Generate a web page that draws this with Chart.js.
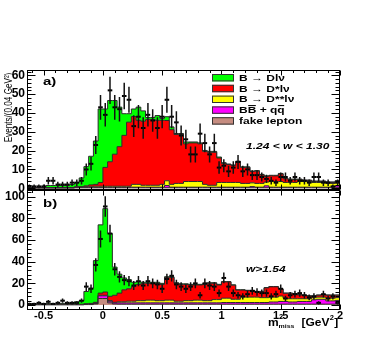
<!DOCTYPE html>
<html>
<head>
<meta charset="utf-8">
<title>m2 miss distributions</title>
<script src="https://cdn.jsdelivr.net/npm/chart.js@4.4.1/dist/chart.umd.min.js"></script>
<style>
  html, body { margin: 0; padding: 0; background: #fff; }
  body { position: relative; width: 374px; height: 339px; overflow: hidden; }
  canvas { position: absolute; left: 0; }
  #chartA { top: 0; }
  #chartB { top: 175px; }
</style>
</head>
<body>
<canvas id="chartA" width="374" height="200"></canvas>
<canvas id="chartB" width="374" height="164"></canvas>
<script>
const FONT = '"Liberation Sans", Arial, Helvetica, sans-serif';

// bin centres, m2miss in GeV^2 (0.04 GeV^2 bins)
const massBins = [-0.62, -0.58, -0.54, -0.50, -0.46, -0.42, -0.38, -0.34, -0.30, -0.26,
  -0.22, -0.18, -0.14, -0.10, -0.06, -0.02, 0.02, 0.06, 0.10, 0.14,
  0.18, 0.22, 0.26, 0.30, 0.34, 0.38, 0.42, 0.46, 0.50, 0.54,
  0.58, 0.62, 0.66, 0.70, 0.74, 0.78, 0.82, 0.86, 0.90, 0.94,
  0.98, 1.02, 1.06, 1.10, 1.14, 1.18, 1.22, 1.26, 1.30, 1.34,
  1.38, 1.42, 1.46, 1.50, 1.54, 1.58, 1.62, 1.66, 1.70, 1.74,
  1.78, 1.82, 1.86, 1.90, 1.94, 1.98];
const binWidth = 0.04;

// a) 1.24 < w < 1.30
const dataA = [1, 1, 1, 1, 4, 4, 2, 2, 2, 3,
  3, 4, 10, 13, 23, 43, 39, 52, 43, 42,
  49, 47, 33, 38, 32, 39, 36, 32, 38, 47,
  38, 35, 28, 26, 18, 18, 29, 24, 18, 24,
  11, 12, 9, 11, 14, 9, 10, 7, 7, 6,
  5, 4, 3, 6, 6, 4, 6, 4, 4, 3,
  6, 6, 3, 3, 1, 3];
const fakeA = [0.2, 0.2, 0.2, 0.2, 0.2, 0.2, 0.2, 0.2, 0.2, 0.2,
  0.3, 0.3, 0.3, 0.3, 0.3, 0.3, 0.3, 0.3, 0.3, 0.3,
  0.3, 0.3, 0.3, 0.3, 0.3, 0.3, 0.3, 0.3, 0.3, 0.3,
  0.3, 0.3, 0.3, 0.3, 0.3, 0.3, 0.3, 0.3, 0.3, 0.3,
  0.3, 0.3, 0.3, 0.3, 0.3, 0.3, 0.3, 0.3, 0.3, 0.3,
  0.3, 0.3, 0.3, 0.3, 0.3, 0.3, 0.3, 0.3, 0.3, 0.3,
  0.3, 0.3, 0.3, 0.3, 0.3, 0.3];
const bbqqA = [0.1, 0.1, 0.1, 0.1, 0.1, 0.1, 0.1, 0.1, 0.1, 0.1,
  0.3, 0.3, 0.3, 0.3, 0.3, 0.3, 0.3, 0.3, 0.3, 0.3,
  0.3, 0.3, 0.3, 0.3, 0.3, 0.3, 0.3, 0.3, 0.3, 1.2,
  0.3, 0.3, 0.3, 0.3, 0.3, 0.3, 0.3, 0.3, 0.3, 0.3,
  0.3, 0.3, 0.3, 0.3, 0.3, 0.3, 0.3, 0.6, 0.3, 0.3,
  1.0, 0.3, 0.3, 0.3, 0.3, 0.3, 0.3, 0.3, 0.3, 0.3,
  0.3, 0.3, 0.3, 0.3, 0.3, 1.0];
const dssA = [0, 0, 0, 0, 0, 0, 0, 0, 0, 0,
  0.2, 0.2, 0.2, 0.2, 0.5, 0.5, 0.5, 0.5, 0.5, 0.5,
  0.5, 0.5, 1.5, 1.5, 1, 1, 1, 1, 1.5, 2.5,
  1.5, 2, 2, 3, 3, 3, 3, 1.5, 1, 1,
  2.5, 2.5, 2.5, 2.5, 2.5, 2, 2, 2, 2, 2,
  2, 3, 3, 3, 2.5, 2.5, 2.5, 3, 3, 3,
  2.5, 2.5, 2.5, 2, 2, 2];
const dstarA = [0, 0, 0, 0, 0, 0, 0, 0, 0, 0,
  0, 0, 0.5, 1, 1, 2, 10, 13, 17, 21,
  27, 34, 36, 34, 34, 35, 35, 34.5, 34, 32,
  29, 26, 26, 20, 20.5, 20.5, 20, 17.5, 17.5, 17.5,
  13, 10, 9.5, 9, 11, 8.5, 8.5, 6, 6.5, 4.5,
  3, 3, 3, 4, 2, 1.5, 1.5, 1, 0.5, 0.5,
  0.5, 0.5, 0.5, 0.5, 0.5, 0.5];
const dlnuA = [0.2, 0.2, 0.2, 0.2, 1.2, 1.2, 1.2, 1.2, 1.2, 1.7,
  2.2, 4.7, 10.2, 15.2, 23, 39, 31, 32.5, 28.5, 21,
  11.5, 4.5, 4, 7, 5.5, 1, 1, 2.5, 1, 2,
  1.5, 0.5, 0.5, 1, 0.5, 0.5, 0.5, 0.5, 0.5, 0.5,
  0.5, 0.5, 0.3, 0.3, 0.3, 0.3, 0.3, 0.3, 0.3, 0.3,
  0.3, 0.3, 0.3, 0.3, 0.3, 0.3, 0.3, 0.3, 0.3, 0.3,
  0.3, 0.3, 0.3, 0.3, 0.3, 0.3];

// b) w > 1.54
const dataB = [1, 1, 2, 1, 3, 1, 2, 4, 2, 2,
  2, 4, 17, 15, 37, 61, 91, 66, 33, 26,
  23, 22, 18, 22, 18, 22, 20, 19, 15, 24,
  27, 19, 17, 15, 17, 20, 9, 20, 18, 17,
  11, 25, 17, 11, 9, 8, 10, 13, 12, 11,
  11, 8, 10, 15, 6, 9, 10, 11, 9, 7,
  8, 2, 10, 6, 8, 2];
const fakeB = [0.2, 0.2, 0.2, 0.2, 0.2, 0.2, 0.2, 0.2, 0.2, 0.2,
  0.2, 0.2, 0.4, 0.4, 1, 6, 6, 2, 1, 0.8,
  0.8, 0.8, 0.8, 0.8, 0.8, 0.8, 0.8, 0.8, 0.8, 0.8,
  0.8, 0.8, 0.8, 0.8, 0.8, 0.8, 0.8, 0.8, 0.8, 0.8,
  0.8, 0.8, 0.8, 0.8, 0.8, 0.8, 0.8, 0.8, 0.8, 0.8,
  0.8, 0.8, 0.8, 0.8, 0.8, 0.8, 0.8, 0.8, 0.8, 0.8,
  0.8, 0.8, 0.8, 0.8, 0.8, 0.8];
const bbqqB = [0.2, 0.2, 0.2, 0.2, 0.2, 0.2, 0.2, 0.2, 0.2, 0.2,
  0.2, 0.2, 0.2, 0.2, 0.5, 2.5, 2.5, 1.5, 1, 1.2,
  1.2, 1.2, 1.2, 1.2, 1.2, 1.2, 1.2, 1.2, 1.2, 1.2,
  1.2, 1.2, 1.2, 1.2, 1.2, 1.2, 1.2, 1.2, 1.2, 1.2,
  1.2, 1.5, 1.5, 1.5, 1.5, 1.5, 1.5, 1.5, 1.5, 1.5,
  1.5, 2, 2, 2.5, 2.5, 2, 2, 2.5, 2.5, 2.5,
  4, 4.5, 4.5, 3, 3, 3.5];
const dssB = [0.2, 0.2, 0.2, 0.2, 0.2, 0.2, 0.2, 0.2, 0.2, 0.2,
  0.2, 0.2, 0.2, 0.2, 0.3, 0.5, 0.5, 0.5, 0.5, 1,
  1, 1.5, 1.5, 2, 2, 2.5, 2.5, 2, 2, 2.5,
  2.5, 1.5, 1.5, 2, 2, 2.5, 2.5, 2, 2, 3,
  3, 4, 4, 3, 3, 5, 5, 5, 5, 4.5,
  4.5, 4.5, 4.5, 5, 3, 3, 3, 2.5, 2.5, 2.5,
  2, 2, 2, 2.5, 2.5, 2.5];
const dstarB = [0, 0, 0, 0, 0, 0, 0, 0, 0, 0,
  0, 0, 0.4, 0.7, 0.7, 2, 3, 4, 6.5, 8,
  11, 11.5, 13.5, 15, 16, 15.5, 15.5, 16, 15, 21,
  21, 16.5, 15.5, 15, 14.5, 14, 14, 15, 16, 15,
  13.5, 15, 15, 13, 8.5, 6.5, 6, 6, 5, 5.5,
  9, 9.5, 9.5, 6.5, 4.5, 5, 4.5, 3.5, 3, 2.5,
  1.2, 1.7, 2.2, 2.7, 2.7, 2.2];
const dlnuB = [0.2, 0.2, 0.4, 0.2, 0.9, 0.4, 0.4, 0.9, 0.9, 0.9,
  2.4, 3.4, 11.3, 14, 38.5, 63, 77, 58, 26, 17.5,
  11, 8.5, 4, 2.5, 1, 1, 1, 1, 1, 0.6,
  0.6, 0.6, 0.6, 0.6, 0.6, 0.6, 0.6, 0.6, 0.6, 0.6,
  0.6, 0.3, 0.3, 0.3, 0.3, 0.3, 0.3, 0.3, 0.3, 0.3,
  0.3, 0.3, 0.3, 0.3, 0.3, 0.3, 0.3, 0.3, 0.3, 0.3,
  0.3, 0.3, 0.3, 0.3, 0.3, 0.3];

const xTicks = [-0.5, 0, 0.5, 1, 1.5, 2];
const yTicksA = [0, 10, 20, 30, 40, 50, 60];
const yTicksB = [0, 20, 40, 60, 80, 100];

// stacking order, bottom to top
const sources = ['fake lepton', 'BB + qq', 'B \u2192 D**l\u03bd', 'B \u2192 D*l\u03bd', 'B \u2192 Dl\u03bd'];
const colors = ['#c68c80', '#ff00ff', '#ffff00', '#ff0000', '#00ff00'];

function steps(vals) {
  const pts = massBins.map((c, i) => ({ x: c - binWidth / 2, y: vals[i] }));
  pts.push({ x: massBins[massBins.length - 1] + binWidth / 2, y: vals[vals.length - 1] });
  return pts;
}

function makeDatasets(counts, parts) {
  const sets = [{
    label: 'data',
    data: massBins.map((c, i) => ({ x: c, y: counts[i] })),
    showLine: false,
    pointStyle: 'line',
    pointRadius: 2.3,
    pointBorderWidth: 2,
    pointBorderColor: '#000',
    borderColor: '#000',
    stack: 'data',
    errorBars: true
  }];
  parts.forEach((vals, k) => sets.push({
    label: sources[k],
    data: steps(vals),
    stepped: 'before',
    fill: k === 0 ? 'origin' : '-1',
    backgroundColor: colors[k],
    borderColor: '#2a2a2a',
    borderWidth: 1,
    pointRadius: 0,
    stack: 'mc'
  }));
  return sets;
}

// poisson error bars on the data points
const errorBars = {
  id: 'errorBars',
  afterDatasetsDraw(chart) {
    const { ctx, scales: { y } } = chart;
    chart.data.datasets.forEach((ds, di) => {
      if (!ds.errorBars) return;
      const meta = chart.getDatasetMeta(di);
      ctx.save();
      ctx.strokeStyle = '#111';
      ctx.lineWidth = 1.5;
      ctx.beginPath();
      meta.data.forEach((pt, i) => {
        const v = ds.data[i].y;
        const e = Math.sqrt(v);
        ctx.moveTo(pt.x, y.getPixelForValue(v + e));
        ctx.lineTo(pt.x, y.getPixelForValue(Math.max(v - e, 0)));
      });
      ctx.stroke();
      ctx.restore();
    });
  }
};

// frame with ticks pointing inwards
const rootFrame = {
  id: 'rootFrame',
  afterDraw(chart, args, o) {
    const { ctx, chartArea: a, scales: { x, y } } = chart;
    const L = Math.round(a.left) + 0.5, R = Math.round(a.right) - 0.5;
    const T = Math.round(a.top) + 0.5, B = Math.round(a.bottom) - 0.5;
    ctx.save();
    ctx.strokeStyle = '#000';
    ctx.lineWidth = 1;
    ctx.beginPath();
    for (let k = Math.ceil(y.min / o.yMinor); k * o.yMinor <= y.max; k++) {
      const len = k % 5 === 0 ? 8 : 4;
      const py = Math.round(y.getPixelForValue(k * o.yMinor)) + 0.5;
      ctx.moveTo(L, py); ctx.lineTo(L + len, py);
      ctx.moveTo(R, py); ctx.lineTo(R - len, py);
    }
    for (let k = Math.ceil(x.min * 10 - 1e-6); k <= x.max * 10 + 1e-6; k++) {
      const len = k % 5 === 0 ? 5 : 2.5;
      const px = Math.round(x.getPixelForValue(k / 10)) + 0.5;
      ctx.moveTo(px, B); ctx.lineTo(px, B - len);
      ctx.moveTo(px, T); ctx.lineTo(px, T + len);
    }
    ctx.stroke();
    ctx.strokeRect(L, T, R - L, B - T);
    ctx.restore();
  }
};

function drawText(ctx, it) {
  ctx.save();
  ctx.translate(it.x, it.y);
  if (it.rotate) ctx.rotate(it.rotate);
  ctx.scale(it.sx || 1, it.sy || 1);
  ctx.font = it.font;
  ctx.fillStyle = '#000';
  ctx.textAlign = it.align || 'left';
  ctx.textBaseline = 'alphabetic';
  ctx.fillText(it.text, 0, 0);
  (it.over || []).forEach(([s, e]) => {
    const x0 = ctx.measureText(it.text.slice(0, s)).width;
    const x1 = ctx.measureText(it.text.slice(0, e)).width;
    ctx.fillRect(x0 + 0.5, -11, x1 - x0 - 1, 1.4);
  });
  ctx.restore();
}

const notes = {
  id: 'notes',
  afterDraw(chart, args, o) {
    (o.items || []).forEach(it => drawText(chart.ctx, it));
  }
};

const legendBox = {
  id: 'legendBox',
  afterDraw(chart, args, o) {
    if (!o.show) return;
    const ctx = chart.ctx;
    const items = chart.data.datasets.filter(d => d.stack === 'mc').reverse();
    items.forEach((d, k) => {
      const top = 74 + k * 10.8;
      ctx.save();
      ctx.fillStyle = d.backgroundColor;
      ctx.fillRect(212, top, 22, 7.4);
      ctx.strokeStyle = '#333';
      ctx.lineWidth = 1;
      ctx.strokeRect(212.5, top + 0.5, 21, 6.4);
      ctx.restore();
      drawText(ctx, {
        text: d.label, x: 239, y: top + 6.8, sy: 0.74,
        font: 'bold 12px ' + FONT,
        over: d.label === 'BB + qq' ? [[1, 2], [6, 7]] : []
      });
    });
  }
};

function makeOptions(yMin, yMax, yTicks, yMinor, showX, padding, items, showLegend) {
  return {
    responsive: false,
    animation: false,
    devicePixelRatio: 1,
    events: [],
    layout: { padding },
    plugins: {
      legend: { display: false },
      tooltip: { enabled: false },
      rootFrame: { yMinor },
      notes: { items },
      legendBox: { show: showLegend }
    },
    scales: {
      x: {
        type: 'linear', min: -0.64, max: 2.0, display: showX,
        grid: { display: false, drawTicks: false },
        border: { display: false },
        afterBuildTicks: s => { s.ticks = xTicks.map(v => ({ value: v })); },
        afterFit: s => { s.height = showX ? 29 : 0; },
        ticks: {
          autoSkip: false, maxRotation: 0, padding: -1, color: '#000',
          font: { family: FONT, size: 11, weight: 'bold' },
          callback: v => String(v)
        }
      },
      y: {
        min: yMin, max: yMax, stacked: true,
        grid: { display: false, drawTicks: false },
        border: { display: false },
        afterBuildTicks: s => { s.ticks = yTicks.map(v => ({ value: v })); },
        afterFit: s => { s.width = 27; },
        ticks: {
          autoSkip: false, padding: 2, color: '#000',
          font: { family: FONT, size: 12, weight: 'bold' }
        }
      }
    }
  };
}

new Chart(
  document.getElementById('chartA'),
  {
    type: 'line',
    data: { datasets: makeDatasets(dataA, [fakeA, bbqqA, dssA, dstarA, dlnuA]) },
    options: makeOptions(-0.9, 62.8, yTicksA, 2, false,
      { top: 70, bottom: 10, left: 0, right: 34 },
      [
        { text: 'a)', x: 43, y: 84.5, sy: 0.74, font: 'bold 15px ' + FONT },
        { text: '1.24 < w < 1.30', x: 246, y: 149, sy: 0.74, font: 'italic bold 12px ' + FONT },
        { text: 'Events/(0.04 GeV\u00b2)', x: 12, y: 107.5, rotate: -Math.PI / 2, sx: 0.74, align: 'center', font: '11px ' + FONT }
      ], true),
    plugins: [errorBars, rootFrame, notes, legendBox]
  }
);

new Chart(
  document.getElementById('chartB'),
  {
    type: 'line',
    data: { datasets: makeDatasets(dataB, [fakeB, bbqqB, dssB, dstarB, dlnuB]) },
    options: makeOptions(-4.6, 106.2, yTicksB, 4, true,
      { top: 15, bottom: 0, left: 0, right: 34 },
      [
        { text: 'b)', x: 43, y: 32, sy: 0.74, font: 'bold 15px ' + FONT },
        { text: 'w>1.54', x: 246, y: 96.5, sy: 0.74, font: 'italic bold 12px ' + FONT },
        { text: 'm', x: 268, y: 150.5, sy: 0.85, font: 'bold 12px ' + FONT },
        { text: '2', x: 279, y: 144, sy: 0.85, font: 'bold 7.5px ' + FONT },
        { text: 'miss', x: 278.5, y: 152.5, sy: 0.85, font: 'bold 7px ' + FONT },
        { text: '[GeV', x: 301.5, y: 150.5, sy: 0.85, font: 'bold 12px ' + FONT },
        { text: '2', x: 329.8, y: 144.5, sy: 0.85, font: 'bold 7.5px ' + FONT },
        { text: ']', x: 334.2, y: 150.5, sy: 0.85, font: 'bold 12px ' + FONT }
      ], false),
    plugins: [errorBars, rootFrame, notes, legendBox]
  }
);
</script>
</body>
</html>
